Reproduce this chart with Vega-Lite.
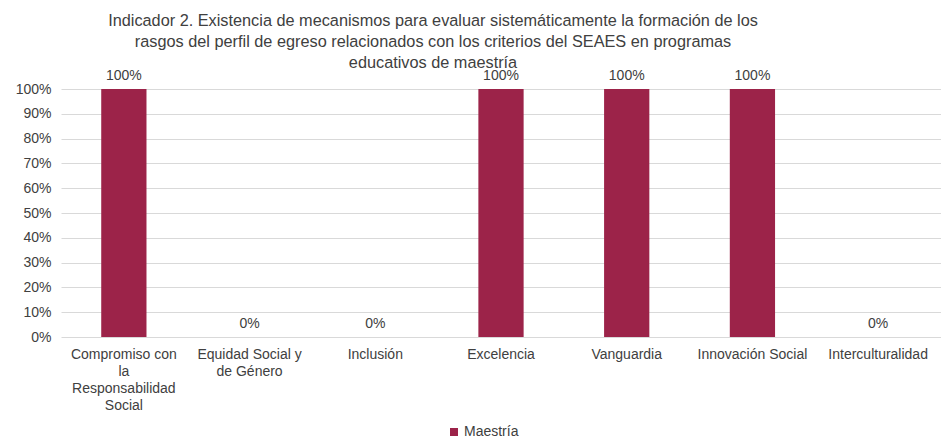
{
  "$schema": "https://vega.github.io/schema/vega-lite/v6.json",
  "width": 880,
  "height": 248,
  "autosize": "none",
  "padding": {"left": 61, "top": 89, "right": 0, "bottom": 110},
  "background": "white",
  "title": {
    "text": ["Indicador 2. Existencia de mecanismos para evaluar sistemáticamente la formación de los", "rasgos del perfil de egreso relacionados con los criterios del SEAES en programas", "educativos de maestría"],
    "anchor": "middle",
    "dx": -68,
    "fontSize": 16.3,
    "font": "Liberation Sans",
    "fontWeight": "normal",
    "color": "#404040",
    "lineHeight": 21,
    "offset": -2
  },
  "data": {
    "values": [
      {"cat": "Compromiso con|la|Responsabilidad|Social", "serie": "Maestría", "value": 1},
      {"cat": "Equidad Social y|de Género", "serie": "Maestría", "value": 0},
      {"cat": "Inclusión", "serie": "Maestría", "value": 0},
      {"cat": "Excelencia", "serie": "Maestría", "value": 1},
      {"cat": "Vanguardia", "serie": "Maestría", "value": 1},
      {"cat": "Innovación Social", "serie": "Maestría", "value": 1},
      {"cat": "Interculturalidad", "serie": "Maestría", "value": 0}
    ]
  },
  "encoding": {
    "x": {
      "field": "cat",
      "type": "nominal",
      "sort": null,
      "scale": {"paddingInner": 0.64, "paddingOuter": 0.32},
      "axis": {
        "title": null,
        "labelAngle": 0,
        "labelExpr": "split(datum.label, '|')",
        "labelFont": "Liberation Sans",
        "labelFontSize": 14,
        "labelColor": "#404040",
        "labelLineHeight": 17,
        "labelPadding": 10,
        "labelOverlap": false,
        "ticks": false,
        "domain": false,
        "grid": false
      }
    },
    "y": {
      "field": "value",
      "type": "quantitative",
      "scale": {"domain": [0, 1]},
      "axis": {
        "title": null,
        "format": ".0%",
        "values": [0, 0.1, 0.2, 0.3, 0.4, 0.5, 0.6, 0.7, 0.8, 0.9, 1],
        "labelFont": "Liberation Sans",
        "labelFontSize": 14,
        "labelColor": "#404040",
        "labelPadding": 10,
        "labelOverlap": false,
        "ticks": false,
        "domain": false,
        "grid": true,
        "gridColor": "#d9d9d9"
      }
    }
  },
  "layer": [
    {
      "mark": {"type": "bar"},
      "encoding": {
        "color": {
          "field": "serie",
          "type": "nominal",
          "scale": {"range": ["#9C2349"]},
          "legend": {
            "title": null,
            "orient": "none",
            "legendX": 386,
            "legendY": 336,
            "symbolType": "square",
            "symbolSize": 64,
            "labelFont": "Liberation Sans",
            "labelFontSize": 14,
            "labelColor": "#404040",
            "labelOffset": 3
          }
        }
      }
    },
    {
      "mark": {"type": "text", "baseline": "bottom", "dy": -6, "font": "Liberation Sans", "fontSize": 14, "color": "#404040"},
      "encoding": {
        "text": {"field": "value", "type": "quantitative", "format": ".0%"}
      }
    }
  ],
  "config": {"view": {"stroke": null}}
}
